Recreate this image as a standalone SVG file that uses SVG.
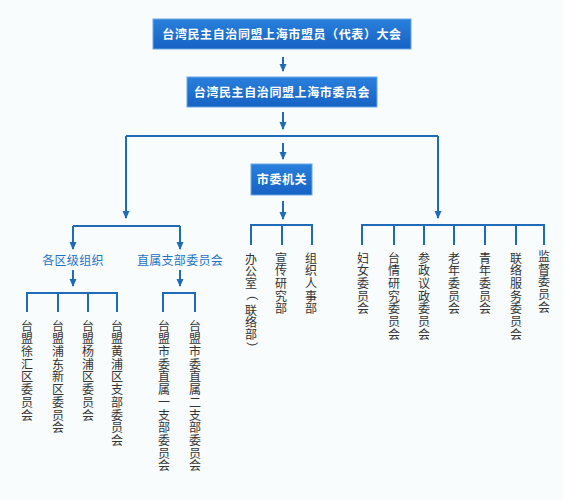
<svg xmlns="http://www.w3.org/2000/svg" width="563" height="500" viewBox="0 0 563 500">
<defs>
<linearGradient id="bg" x1="0" y1="0" x2="0" y2="1">
<stop offset="0" stop-color="#2a80dc"/>
<stop offset="1" stop-color="#1662c4"/>
</linearGradient>
<marker id="arr" markerUnits="userSpaceOnUse" markerWidth="8" markerHeight="8" viewBox="0 0 8 8" refX="7" refY="4" orient="auto">
<path d="M0,0.5 L8,4 L0,7.5 Z" fill="#1e6bb8"/>
</marker>
</defs>
<style>
.box{fill:url(#bg);stroke:#6aa8e6;stroke-width:1}
.bt{font-family:"Noto Sans CJK SC","Noto Sans",sans-serif;font-size:12px;font-weight:bold;fill:#ffffff;text-anchor:middle;letter-spacing:0.6px}
.lbl{font-family:"Noto Sans CJK SC","Noto Sans",sans-serif;font-size:12px;fill:#1f72c4;text-anchor:middle;letter-spacing:0.3px}
.vt{font-family:"Noto Sans CJK SC","Noto Sans",sans-serif;font-size:12px;fill:#333333;text-anchor:middle}
.ln{stroke:#1e6bb8;stroke-width:2;fill:none}
.ar{stroke:#1e6bb8;stroke-width:2;fill:none;marker-end:url(#arr)}
</style>
<rect width="563" height="500" fill="#f8fcfd"/>
<g id="connectors">
<line class="ar" x1="283" y1="57" x2="283" y2="71"/>
<line class="ar" x1="283" y1="112" x2="283" y2="129"/>
<path class="ln" d="M126,136 H438"/>
<line class="ar" x1="126" y1="136" x2="126" y2="218"/>
<line class="ar" x1="438" y1="136" x2="438" y2="218"/>
<line class="ar" x1="283" y1="143" x2="283" y2="159"/>
<line class="ar" x1="283" y1="201" x2="283" y2="219"/>
<path class="ln" d="M251,245 V225 H312 V245 M282,225 V245"/>
<path class="ln" d="M362,245 V225 H544 V245 M394,225 V245 M424,225 V245 M454,225 V245 M485,225 V245 M516,225 V245"/>
<path class="ln" d="M73,226 H180"/>
<line class="ar" x1="73" y1="226" x2="73" y2="249"/>
<line class="ar" x1="180" y1="226" x2="180" y2="249"/>
<line class="ar" x1="73" y1="270" x2="73" y2="286"/>
<line class="ar" x1="180" y1="270" x2="180" y2="286"/>
<path class="ln" d="M27,312 V293 H117 V312 M58,293 V312 M88,293 V312"/>
<path class="ln" d="M163,312 V293 H195 V312"/>
</g>
<g id="n-congress">
<rect class="box" x="153" y="19" width="258" height="30"/>
<text class="bt" x="282" y="38.5">台湾民主自治同盟上海市盟员（代表）大会</text>
</g>
<g id="n-committee">
<rect class="box" x="187" y="77" width="190" height="30"/>
<text class="bt" x="282" y="96.5">台湾民主自治同盟上海市委员会</text>
</g>
<g id="n-organ">
<rect class="box" x="251" y="164" width="61" height="31"/>
<text class="bt" x="282" y="184">市委机关</text>
</g>
<g id="n-district"><text class="lbl" x="73" y="264.5">各区级组织</text></g>
<g id="n-direct"><text class="lbl" x="180" y="264.5">直属支部委员会</text></g>
<g id="n-xuhui"><text class="vt" x="27 27 27 27 27 27 27 27" y="330.6 343.3 356 368.7 381.4 394.1 406.8 419.5">台盟徐汇区委员会</text></g>
<g id="n-pudong"><text class="vt" x="58 58 58 58 58 58 58 58 58" y="330.6 343.3 356 368.7 381.4 394.1 406.8 419.5 432.2">台盟浦东新区委员会</text></g>
<g id="n-yangpu"><text class="vt" x="88 88 88 88 88 88 88 88" y="330.6 343.3 356 368.7 381.4 394.1 406.8 419.5">台盟杨浦区委员会</text></g>
<g id="n-huangpu"><text class="vt" x="117 117 117 117 117 117 117 117 117 117" y="330.6 343.3 356 368.7 381.4 394.1 406.8 419.5 432.2 444.9">台盟黄浦区支部委员会</text></g>
<g id="n-direct1"><text class="vt" x="164 164 164 164 164 164 164 164 164 164 164 164" y="330.6 343.3 356 368.7 381.4 394.1 406.8 419.5 432.2 444.9 457.6 470.3">台盟市委直属一支部委员会</text></g>
<g id="n-direct2"><text class="vt" x="195 195 195 195 195 195 195 195 195 195 195 195" y="330.6 343.3 356 368.7 381.4 394.1 406.8 419.5 432.2 444.9 457.6 470.3">台盟市委直属二支部委员会</text></g>
<g id="n-office">
<text class="vt" x="251 251 251" y="263.6 275.8 288">办公室</text>
<text class="vt" transform="translate(251,294.6) rotate(90)" x="0" y="4.3">（</text>
<text class="vt" x="251 251 251" y="314.6 326.8 339">联络部</text>
<text class="vt" transform="translate(251,347.8) rotate(90)" x="0" y="4.3">）</text>
</g>
<g id="n-publicity"><text class="vt" x="281 281 281 281 281" y="262.6 275.3 288 300.7 313.4">宣传研究部</text></g>
<g id="n-personnel"><text class="vt" x="311 311 311 311 311" y="262.6 275.3 288 300.7 313.4">组织人事部</text></g>
<g id="n-women"><text class="vt" x="363 363 363 363 363" y="262.6 275.3 288 300.7 313.4">妇女委员会</text></g>
<g id="n-taiwan"><text class="vt" x="394 394 394 394 394 394 394" y="262.6 275.3 288 300.7 313.4 326.1 338.8">台情研究委员会</text></g>
<g id="n-politics"><text class="vt" x="424 424 424 424 424 424 424" y="262.6 275.3 288 300.7 313.4 326.1 338.8">参政议政委员会</text></g>
<g id="n-elder"><text class="vt" x="454 454 454 454 454" y="262.6 275.3 288 300.7 313.4">老年委员会</text></g>
<g id="n-youth"><text class="vt" x="485 485 485 485 485" y="262.6 275.3 288 300.7 313.4">青年委员会</text></g>
<g id="n-liaison"><text class="vt" x="516 516 516 516 516 516 516" y="262.6 275.3 288 300.7 313.4 326.1 338.8">联络服务委员会</text></g>
<g id="n-supervise"><text class="vt" x="544 544 544 544 544" y="261 273.7 286.4 299.1 311.8">监督委员会</text></g>
</svg>
